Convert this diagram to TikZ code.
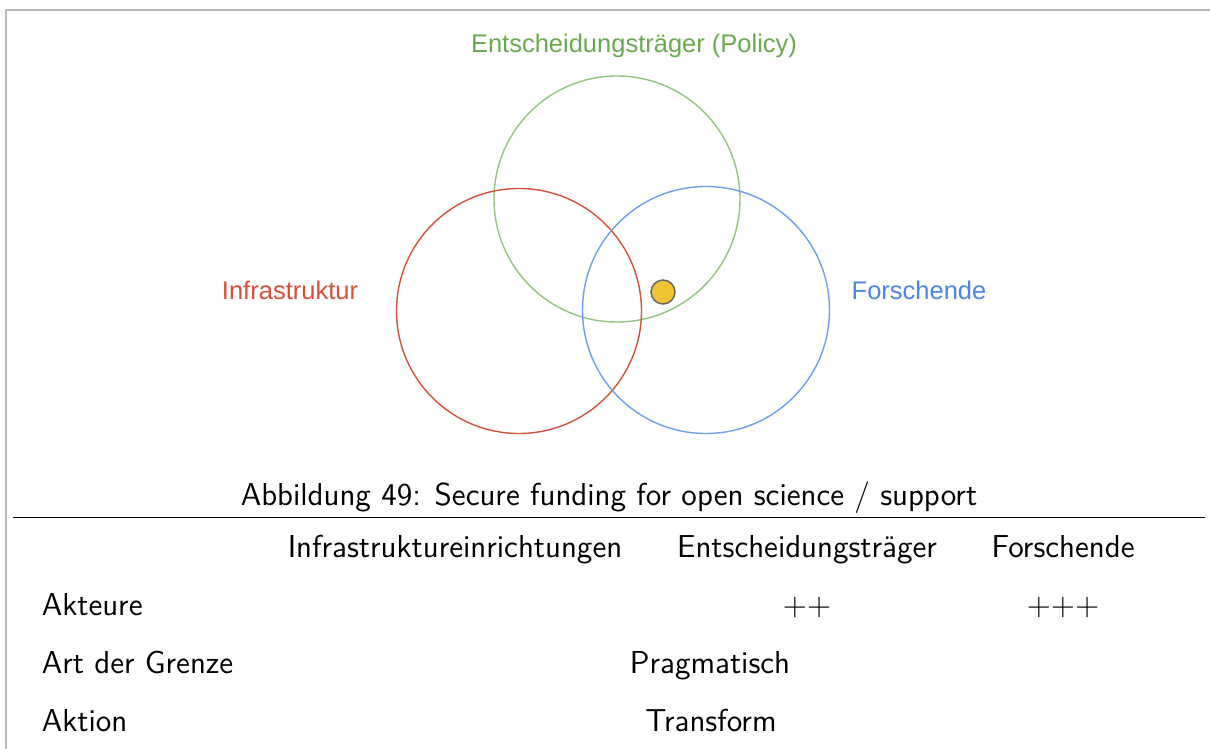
\documentclass[tikz,border=0pt]{standalone}
\usepackage{fontspec}
\newfontfamily\vennfont{Liberation Sans}
\newfontfamily\tabfont{lmsans12-regular.otf}
\newfontfamily\plusfont{lmroman12-regular.otf}
\usetikzlibrary{positioning}
\definecolor{vnGreen}{HTML}{93C47D}
\definecolor{vnGreenTxt}{HTML}{6AA84F}
\definecolor{vnRed}{HTML}{D3503A}
\definecolor{vnBlue}{HTML}{6D9EEB}
\definecolor{vnBlueTxt}{HTML}{4A86E8}
\definecolor{vnYellow}{HTML}{F1C232}
\definecolor{vnFrame}{HTML}{B7B7B7}
\tikzset{
  % one unit is one pixel of the page, y runs downwards
  every picture/.append style = {line width=1.5pt},
  ring/.style     = {circle, draw, line width=1.4pt, inner sep=0pt, outer sep=0pt, minimum size=#1},
  ringlbl/.style  = {font=\vennfont\fontsize{25.5}{30}\selectfont, anchor=base, inner sep=0pt},
  tab/.style      = {font=\tabfont\fontsize{31.7}{38}\selectfont, anchor=base, inner sep=0pt},
  rowlbl/.style   = {tab, anchor=base west},
  plus/.style     = {font=\plusfont\fontsize{31.7}{38}\selectfont, anchor=base, inner sep=0pt},
}

\begin{document}
\begin{tikzpicture}[x=1pt,y=-1pt]
  \useasboundingbox (0,0) rectangle (1210,749);
  % page frame, only top and left edge are visible
  \coordinate (frameB) at (6,749);
  \coordinate (frameC) at (6,10);
  \coordinate (frameR) at (1210,10);
  \draw[vnFrame, line width=2pt] (frameB) -- (frameC) -- (frameR);
  % the three circles and their labels
  \node[ring=246pt, draw=vnGreen] (policy) at (617,199) {};
  \node[ring=245pt, draw=vnRed]   (infra)  at (519,311) {};
  \node[ring=247pt, draw=vnBlue]  (forsch) at (706,310) {};
  \node[ringlbl, vnGreenTxt] (policylbl) at (634,53)  {Entscheidungsträger (Policy)};
  \node[ringlbl, vnRed]      (infralbl)  at (290,299) {Infrastruktur};
  \node[ringlbl, vnBlueTxt]  (forschlbl) at (919,299) {Forschende};
  % the case sits in policy and research, not in infrastructure
  \node[circle, fill=vnYellow, draw=black!60, line width=1.5pt, minimum size=24pt, inner sep=0pt] (case) at (663,292) {};
  % caption and rule
  \node[tab] (caption) at (609,505) {Abbildung 49: Secure funding for open science / support};
  \coordinate (ruleL) at (13,517.5);
  \coordinate (ruleR) at (1205,517.5);
  \draw[line width=1.3pt] (ruleL) -- (ruleR);
  % table head
  \node[tab] (hInfra)  at (455,557)  {Infrastruktureinrichtungen};
  \node[tab] (hPolicy) at (807,557)  {Entscheidungsträger};
  \node[tab] (hForsch) at (1063,557) {Forschende};
  % table rows
  \node[rowlbl] (rAkteure) at (41,615) {Akteure};
  \node[plus]   (aPolicy)  at (807,615)  {++};
  \node[plus]   (aForsch)  at (1063,615) {+++};
  \node[rowlbl] (rGrenze)  at (41,673) {Art der Grenze};
  \node[tab]    (vGrenze)  at (710,673) {Pragmatisch};
  \node[rowlbl] (rAktion)  at (41,731) {Aktion};
  \node[tab]    (vAktion)  at (711,731) {Transform};
\end{tikzpicture}
\end{document}
